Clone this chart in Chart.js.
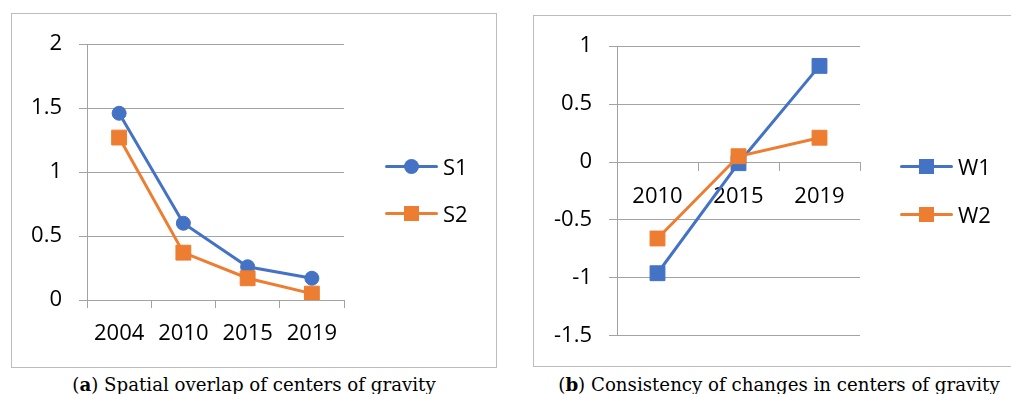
<!DOCTYPE html>
<html>
<head>
<meta charset="utf-8">
<script src="https://cdn.jsdelivr.net/npm/chart.js@4.4.1/dist/chart.umd.min.js"></script>
<style>
  html, body { margin: 0; padding: 0; background: #fff; overflow: hidden; width: 1011px; height: 394px; }
  .box { position: absolute; border: 1px solid #bcbcbc; box-sizing: border-box; }
  #boxA { left: 11px; top: 13px; width: 486px; height: 355px; }
  #boxB { left: 533px; top: 15px; width: 490px; height: 352px; }
  .box canvas { position: absolute; left: 0; top: 0; }
  .cap { position: absolute; top: 376px; line-height: 18px; font-family: "DejaVu Serif", serif; font-size: 18.2px; white-space: nowrap; transform: translateX(-50%); color: #000; }
  .legend { position: absolute; font-family: "Open Sans", sans-serif; font-size: 22px; color: #000; }
  .legend .item { position: absolute; left: 0; height: 22px; display: flex; align-items: center; white-space: nowrap; }
  .legend .key { position: relative; width: 53px; height: 22px; }
  .legend .ln { position: absolute; left: 0; right: 0; top: 9.5px; height: 3px; border-radius: 1.5px; }
  .legend .mk { position: absolute; left: 19px; top: 3.5px; width: 15px; height: 15px; }
  .legend .mk.circle { border-radius: 50%; }
  .legend .txt { margin-left: 5px; line-height: 22px; }
</style>
</head>
<body>
<div class="box" id="boxA"><canvas id="chartA" width="484" height="353"></canvas></div>
<div class="box" id="boxB"><canvas id="chartB" width="480" height="350"></canvas></div>
<div class="legend" id="legA" style="left:385px; top:155px"></div>
<div class="legend" id="legB" style="left:900px; top:155px"></div>
<div class="cap" style="left:254px">(<b>a</b>) Spatial overlap of centers of gravity</div>
<div class="cap" style="left:779px">(<b>b</b>) Consistency of changes in centers of gravity</div>

<script>
// (a) spatial overlap
const yearsA = ['2004', '2010', '2015', '2019'];
const s1 = [1.46, 0.60, 0.26, 0.17];
const s2 = [1.27, 0.37, 0.17, 0.05];

// (b) consistency of changes
const yearsB = ['2010', '2015', '2019'];
const w1 = [-0.96, -0.01, 0.83];
const w2 = [-0.66, 0.05, 0.21];

const BLUE = '#4472C4';
const ORANGE = '#ED7D31';
const GRID = '#a3a3a3';

Chart.defaults.font.family = '"Open Sans"';
Chart.defaults.font.size = 22;
Chart.defaults.color = '#000';

// legend as html, excel style: line with a marker in the middle
const htmlLegend = {
  id: 'htmlLegend',
  afterUpdate(chart, args, opts) {
    const box = document.getElementById(opts.containerID);
    box.innerHTML = '';
    chart.data.datasets.forEach((ds, i) => {
      const item = document.createElement('div');
      item.className = 'item';
      item.style.top = (i * opts.gap) + 'px';
      const key = document.createElement('span');
      key.className = 'key';
      const ln = document.createElement('i');
      ln.className = 'ln';
      ln.style.background = ds.borderColor;
      const mk = document.createElement('i');
      mk.className = 'mk ' + ds.pointStyle;
      mk.style.background = ds.borderColor;
      key.appendChild(ln);
      key.appendChild(mk);
      const txt = document.createElement('span');
      txt.className = 'txt';
      txt.textContent = ds.label;
      item.appendChild(key);
      item.appendChild(txt);
      box.appendChild(item);
    });
  }
};

function series(label, data, color, style, order) {
  return {
    label: label,
    data: data,
    borderColor: color,
    backgroundColor: color,
    borderWidth: 3,
    pointStyle: style,
    pointRadius: style === 'circle' ? 7 : 10.5,
    pointHoverRadius: style === 'circle' ? 7 : 10.5,
    pointBorderWidth: 1,
    pointBackgroundColor: color,
    pointBorderColor: color,
    tension: 0,
    order: order
  };
}

function options(o) {
  return {
    responsive: false,
    animation: false,
    events: [],
    layout: { padding: { left: 0, top: 28, right: o.padR, bottom: o.padB } },
    plugins: {
      tooltip: { enabled: false },
      legend: { display: false },
      htmlLegend: { containerID: o.legend, gap: o.gap }
    },
    scales: {
      x: Object.assign({
        offset: true,
        grid: { offset: true, drawOnChartArea: false, drawTicks: true, tickLength: 8, color: GRID },
        border: { color: GRID, width: 1 },
        ticks: { padding: 13, maxRotation: 0, autoSkip: false }
      }, o.x),
      y: {
        min: o.min,
        max: o.max,
        ticks: {
          stepSize: 0.5,
          padding: 17,
          callback: v => String(Math.round(v * 10) / 10)
        },
        grid: { color: GRID, tickLength: 8 },
        border: { color: GRID, width: 1 },
        afterFit: s => { s.width = o.yWidth; }
      }
    }
  };
}

new Chart(document.getElementById('chartA'), {
  type: 'line',
  plugins: [htmlLegend],
  data: {
    labels: yearsA,
    datasets: [
      series('S1', s1, BLUE, 'circle', 1),
      series('S2', s2, ORANGE, 'rect', 0)
    ]
  },
  options: options({
    min: 0, max: 2, yWidth: 75, padR: 152, padB: 7,
    legend: 'legA', gap: 47,
    x: { position: 'bottom', afterFit: s => { s.height = 60; } }
  })
});

new Chart(document.getElementById('chartB'), {
  type: 'line',
  plugins: [htmlLegend],
  data: {
    labels: yearsB,
    datasets: [
      series('W1', w1, BLUE, 'rect', 1),
      series('W2', w2, ORANGE, 'rect', 0)
    ]
  },
  options: options({
    min: -1.5, max: 1, yWidth: 83, padR: 154, padB: 30,
    legend: 'legB', gap: 48,
    x: { position: { y: 0 } }
  })
});
</script>
</body>
</html>
